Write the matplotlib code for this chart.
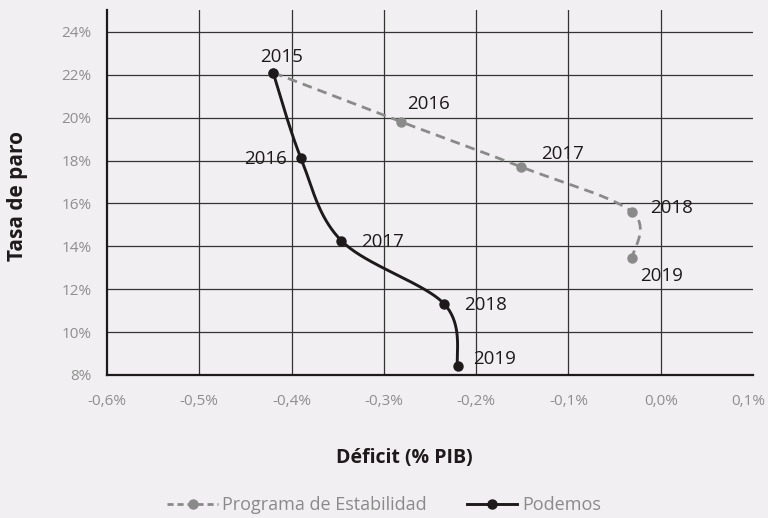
import numpy as np
import matplotlib
matplotlib.use("Agg")
import matplotlib.pyplot as plt
from matplotlib.lines import Line2D
from matplotlib.transforms import ScaledTranslation

plt.rcParams['font.family'] = ['Open Sans', 'DejaVu Sans']

years = ["2015", "2016", "2017", "2018", "2019"]
prog_deficit = [-0.42, -0.281, -0.151, -0.031, -0.031]
prog_paro = [22.1, 19.8, 17.7, 15.6, 13.45]
pod_deficit = [-0.42, -0.39, -0.346, -0.2345, -0.22]
pod_paro = [22.1, 18.13, 14.26, 11.31, 8.42]

x_ticks = [-0.6, -0.5, -0.4, -0.3, -0.2, -0.1, 0.0, 0.1]
y_ticks = [8, 10, 12, 14, 16, 18, 20, 22, 24]

BG = '#f2eff2'
GREY = '#8a8a8a'
TICK = '#8e8e8e'
BLACK = '#1e1a1c'
GRID = '#333333'

fig = plt.figure(figsize=(7.68, 5.18), dpi=100, facecolor=BG)
ax = fig.add_axes([107/768, 1-375/518, (753-107)/768, (375-10)/518])
ax.set_facecolor(BG)
ax.set_xlim(-0.6, 0.1)
ax.set_ylim(8, 25.02)

# scales (pixels per data unit) used for smoothing in screen space
SX = 646/0.7
SY = 365/17.02


def smooth(xs, ys, n=40):
    px = np.array(xs) * SX
    py = np.array(ys) * SY
    pts = np.column_stack([px, py])
    out = []
    for i in range(len(pts) - 1):
        p0 = pts[i - 1] if i > 0 else pts[i]
        p1 = pts[i]
        p2 = pts[i + 1]
        p3 = pts[i + 2] if i + 2 < len(pts) else pts[i + 1]
        c1 = p1 + (p2 - p0) / 6
        c2 = p2 - (p3 - p1) / 6
        t = np.linspace(0, 1, n)[:, None]
        seg = ((1 - t) ** 3) * p1 + 3 * ((1 - t) ** 2) * t * c1 + 3 * (1 - t) * t ** 2 * c2 + t ** 3 * p2
        out.append(seg if i == 0 else seg[1:])
    out = np.vstack(out)
    return out[:, 0] / SX, out[:, 1] / SY

# grid
for yv in y_ticks[1:]:
    ax.axhline(yv, color=GRID, lw=0.9, zorder=1)
for xv in x_ticks[1:-1]:
    ax.axvline(xv, color=GRID, lw=0.9, zorder=1)

sx, sy = smooth(prog_deficit, prog_paro)
ax.plot(sx, sy, color=GREY, lw=2.0, ls=(0, (3.5, 2.2)), zorder=3)
ax.plot(prog_deficit, prog_paro, 'o', color=GREY, ms=6.5, zorder=4)

sx, sy = smooth(pod_deficit, pod_paro)
ax.plot(sx, sy, color=BLACK, lw=2.1, zorder=5)
ax.plot(pod_deficit, pod_paro, 'o', color=BLACK, ms=6.5, zorder=6)

lab_kw = dict(fontsize=13.5, color=BLACK, zorder=7)
# Podemos labels
pod_off = [(6, 5, 'center', 'bottom'), (-10, -1, 'right', 'center'), (14, -1, 'left', 'center'),
           (14, -1, 'left', 'center'), (11, 5, 'left', 'center')]
for i, (dx, dy, ha, va) in enumerate(pod_off):
    ax.annotate(years[i], (pod_deficit[i], pod_paro[i]), xytext=(dx, dy), textcoords='offset points',
                ha=ha, va=va, **lab_kw)
prog_off = [None, (4, 13, 'left', 'center'), (14, 9, 'left', 'center'), (13, 3, 'left', 'center'),
            (6, -13, 'left', 'center')]
for i, o in enumerate(prog_off):
    if o is None:
        continue
    dx, dy, ha, va = o
    ax.annotate(years[i], (prog_deficit[i], prog_paro[i]), xytext=(dx, dy), textcoords='offset points',
                ha=ha, va=va, **lab_kw)

ax.set_xticks(x_ticks)
ax.set_xticklabels([f"{v:.1f}%".replace('.', ',') if v != 0 else "0,0%" for v in x_ticks])
ax.set_yticks(y_ticks)
ax.set_yticklabels([f"{v}%" for v in y_ticks])
ax.tick_params(length=0, labelsize=11, labelcolor=TICK)
ax.tick_params(axis='y', pad=11)
ax.tick_params(axis='x', pad=14)
last = ax.get_xticklabels()[-1]
last.set_transform(last.get_transform() + ScaledTranslation(-5/100, 0, fig.dpi_scale_trans))

for s in ['top', 'right']:
    ax.spines[s].set_visible(False)
for s in ['left', 'bottom']:
    ax.spines[s].set_color(BLACK)
    ax.spines[s].set_linewidth(1.6)

ax.set_xlabel("Déficit (% PIB)", fontsize=14, fontweight='bold', color=BLACK)
ax.xaxis.set_label_coords((404-107)/646, -(448-375)/365)
ax.set_ylabel("Tasa de paro", fontsize=15, fontweight='bold', color=BLACK)
ax.yaxis.set_label_coords(-(107-28)/646, 0.49)

handles = [Line2D([], [], color=GREY, lw=2.0, ls=(0, (2.2, 1.4)), marker='o', ms=6.5),
           Line2D([], [], color=BLACK, lw=2.1, marker='o', ms=6.5)]
leg = fig.legend(handles, ["Programa de Estabilidad", "Podemos"], loc='center',
                 bbox_to_anchor=(0.5, 1-505/518), ncol=2, frameon=False, fontsize=13,
                 handlelength=2.8, columnspacing=2.2, handletextpad=0.25)
for t in leg.get_texts():
    t.set_color(GREY)

fig.savefig("out.png", dpi=100, facecolor=BG)
